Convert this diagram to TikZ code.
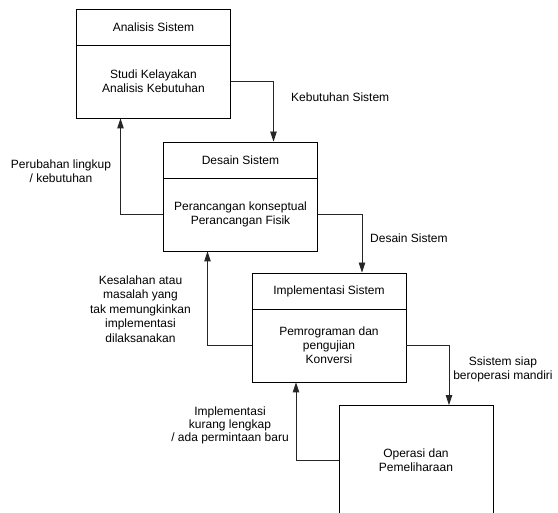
\documentclass[tikz,border=0pt]{standalone}
\usepackage{fontspec}
\setmainfont{Liberation Sans}
\usetikzlibrary{arrows.meta}

\begin{document}
\begin{tikzpicture}[x=1pt,y=-1pt,
  font=\fontsize{12}{14}\selectfont,
  box/.style={draw=black,line width=0.9pt,minimum width=154pt,minimum height=109pt,inner sep=0pt},
  divider/.style={draw=black,line width=0.9pt},
  txt/.style={align=center,inner sep=0pt},
  conn/.style={draw=black!85,line width=0.9pt,-{Triangle[length=10pt,width=6.5pt]}}]

\clip (0,0) rectangle (558,513);
\fill[white] (0,0) rectangle (558,513);

% phase boxes
\node[box] (a) at (153.5,63.5) {};
\node[box] (b) at (240.5,196.5) {};
\node[box] (c) at (329,327.5) {};
\node[box] (d) at (416,460) {};

% title bars
\foreach \n in {a,b,c}
  \draw[divider] ([yshift=-36.5pt]\n.north west) -- ([yshift=-36.5pt]\n.north east);

% box texts
\node[txt] (a1) at ([yshift=-19pt]a.north) {Analisis Sistem};
\node[txt] (a2) at ([yshift=-73pt]a.north) {Studi Kelayakan\\Analisis Kebutuhan};
\node[txt] (b1) at ([yshift=-19pt]b.north) {Desain Sistem};
\node[txt] (b2) at ([yshift=-72.5pt]b.north) {Perancangan konseptual\\Perancangan Fisik};
\node[txt] (c1) at ([yshift=-19pt]c.north) {Implementasi Sistem};
\node[txt] (c2) at ([yshift=-73pt]c.north) {Pemrograman dan\\pengujian\\Konversi};
\node[txt] (d1) at (d.center) {Operasi dan\\Pemeliharaan};

% forward flow
\draw[conn] (a.east |- a2) -| ([xshift=33pt]b.north);
\draw[conn] (b.east |- b2) -| ([xshift=33pt]c.north);
\draw[conn] (c.east |- c2) -| ([xshift=33pt]d.north);

% feedback flow
\draw[conn] (b.west |- b2) -| ([xshift=-33pt]a.south);
\draw[conn] (c.west |- c2) -| ([xshift=-33pt]b.south);
\draw[conn] (d.west |- d1) -| ([xshift=-33pt]c.south);

% connector labels
\node[txt,anchor=west] (l1) at (291,97) {Kebutuhan Sistem};
\node[txt,anchor=west] (l2) at (370,238) {Desain Sistem};
\node[txt] (l3) at (503,369.5) {Ssistem siap\\beroperasi mandiri};
\node[txt] (l4) at (61,171.5) {Perubahan lingkup\\/ kebutuhan};
\node[txt,font=\fontsize{12}{14.5}\selectfont] (l5) at (140.5,309) {Kesalahan atau\\masalah yang\\tak memungkinkan\\implementasi\\dilaksanakan};
\node[txt,font=\fontsize{12}{13}\selectfont] (l6) at (230,425.5) {Implementasi\\kurang lengkap\\/ ada permintaan baru};

\end{tikzpicture}
\end{document}
